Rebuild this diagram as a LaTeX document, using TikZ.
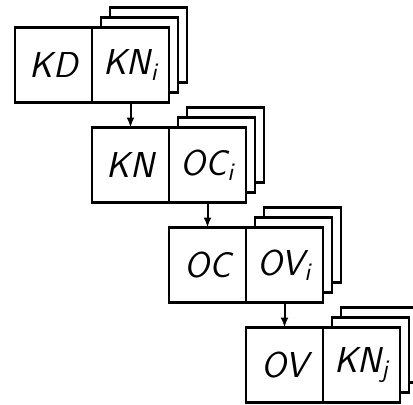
\documentclass[tikz,border=0pt]{standalone}
\usepackage{tikz}
\usetikzlibrary{arrows.meta, positioning, shadows}

\begin{document}
\begin{tikzpicture}[
  node distance=12.5pt and 0pt,
  box/.style={rectangle, draw, fill=white, line width=1.1pt, outer sep=0pt, inner sep=0pt,
    minimum width=38.5pt, minimum height=37.5pt,
    font=\fontsize{18}{22}\selectfont\sffamily\slshape},
  stack/.style={box,
    copy shadow={shadow xshift=9pt, shadow yshift=10pt, draw, line width=1.1pt},
    copy shadow={shadow xshift=4.5pt, shadow yshift=5pt, draw, line width=1.1pt}},
  arr/.style={-{Latex[length=5pt, width=4pt]}, line width=1pt}
]
\useasboundingbox (0,0) rectangle (206.5pt,-202pt);

\node[box] (kd) at (26.75pt,-32.5pt) {KD};
\node[stack, right=of kd] (kni) {KN\textsubscript{i}};

\node[box, below=of kni] (kn) {KN};
\node[stack, right=of kn] (oci) {OC\textsubscript{i}};

\node[box, below=of oci] (oc) {OC};
\node[stack, right=of oc] (ovi) {OV\textsubscript{i}};

\node[box, below=of ovi] (ov) {OV};
\node[stack, right=of ov] (knj) {KN\textsubscript{j}};

\draw[arr] (kni)--(kn);
\draw[arr] (oci)--(oc);
\draw[arr] (ovi)--(ov);
\end{tikzpicture}
\end{document}
